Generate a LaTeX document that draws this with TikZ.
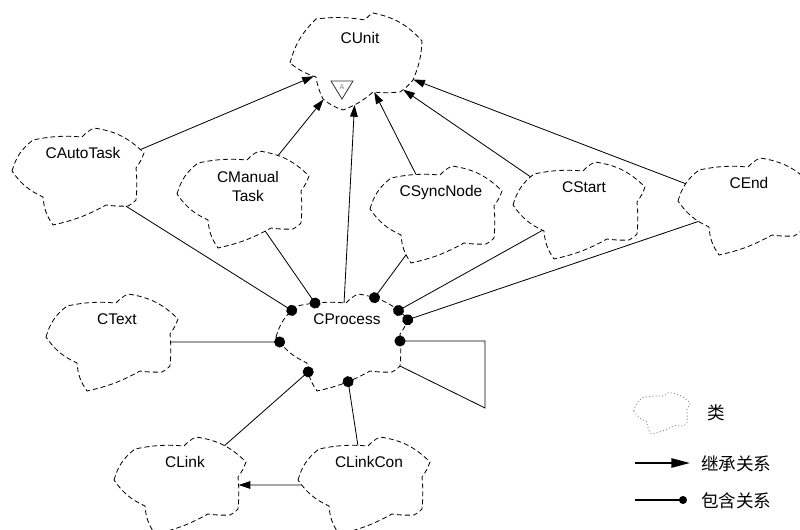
\documentclass[tikz,border=0pt]{standalone}
\usepackage{fontspec}
\setmainfont{Liberation Sans}
\newfontfamily\cjk{Noto Sans CJK SC}
\usetikzlibrary{calc,intersections,arrows.meta}

\tikzset{
  cls/.style={line width=0.7pt, dash pattern=on 4.2pt off 2.6pt},
  clsname/.style={font=\fontsize{13.2}{15.4}\selectfont, align=center, inner sep=0pt},
  abstr/.style={line width=0.7pt, draw=black!80},
  isa/.style={line width=0.7pt, -{Triangle[length=10pt,width=6.5pt]}},
  has/.style={line width=0.7pt, -{Circle[length=3.3mm]}, shorten >=-1.65mm},
  keycls/.style={line width=0.8pt, draw=black!45, dotted},
  keyisa/.style={line width=1.4pt, -{Triangle[length=16pt,width=8pt]}},
  keyhas/.style={line width=1.4pt, -{Circle[length=6.8pt]}, shorten >=-3.4pt},
  keytext/.style={font=\cjk\fontsize{15}{18}\selectfont, anchor=west, inner sep=0pt},
}

% outline of a class cloud, around (0,0)
\newcommand\cloudoutline{(-66,-5) to[bend left=18] (-45,-36) to[bend left=8] (4,-39)
  to[bend left=10] (16,-48) to[bend left=18] (66,-23) to[bend left=8] (58,-8)
  to[bend left=5] (58,24) to[bend left=10] (50,30) to[bend left=5] (28,29)
  to[bend left=8] (-25,49) to[bend left=15] (-35,21) to[bend left=15] cycle}

% class cloud: [baseline of last text line], name, position, text
\newcommand\booch[4][-17.5]{%
  \coordinate (#2) at (#3);
  \begin{scope}[shift={(#2)}]
    \draw[cls, name path global=#2-o] \cloudoutline;
    \coordinate (#2-e) at (58,-1);
    \coordinate (#2-se) at (58,24);
    \node[clsname, anchor=base] (#2-t) at (5,#1) {#4};
  \end{scope}}

% end points of a link between two clouds, on their outlines
\newcommand\linkpts[2]{%
  \path[name path=lk] (#1) -- (#2);
  \path[name intersections={of=#1-o and lk, by=lk-a}];
  \path[name intersections={of=#2-o and lk, by=lk-b}];}

\begin{document}
\begin{tikzpicture}[x=0.03cm, y=-0.03cm]
  \useasboundingbox (0,0) rectangle (800,530);

  %%%%% CLASSES %%%%%
  \coordinate (cunit) at (357,58);
  \begin{scope}[shift={(cunit)}]
    \draw[cls, name path global=cunit-o] (-67,5) to[bend left=15] (-41,-39)
      to[bend left=8] (8,-38) to[bend left=10] (16,-45) to[bend left=18] (65,-17)
      to[bend left=10] (56,22) to[bend left=8] (43,34) to[bend left=5] (16,34)
      to[bend left=10] (-14,52) to[bend left=10] (-34,41) to[bend left=8] (-41,19)
      to[bend left=10] cycle;
    \draw[abstr] (-26,23) -- (-4,23) -- (-15,41) -- cycle;
    \node[font=\fontsize{6}{6}\selectfont, text=black!50, inner sep=0pt] (cunit-a) at (-15,29) {A};
    \node[clsname] (cunit-t) at (3,-20) {CUnit};
  \end{scope}

  \booch{cautotask}{78,176}{CAutoTask}
  \booch[2]{cmanual}{243,199}{CManual\\Task}
  \booch{csyncnode}{436,214}{CSyncNode}
  \booch{cstart}{579,210}{CStart}
  \booch{cend}{744,206}{CEnd}
  \booch{cprocess}{342,342}{CProcess}
  \booch{ctext}{112,342}{CText}
  \booch{clink}{180,485}{CLink}
  \booch{clinkcon}{364,485}{CLinkCon}

  %%%%% INHERITANCE %%%%%
  \foreach \sub in {cautotask,cmanual,cprocess,csyncnode,cstart,cend}{
    \linkpts{\sub}{cunit}
    \draw[isa] (lk-a) -- (lk-b);
  }
  \linkpts{clinkcon}{clink}
  \draw[isa] (lk-a) -- (lk-b);

  %%%%% CONTAINMENT %%%%%
  \foreach \part in {cautotask,cmanual,csyncnode,cstart,cend,ctext,clink,clinkcon}{
    \linkpts{\part}{cprocess}
    \draw[has] (lk-a) -- (lk-b);
  }
  \coordinate (loop-n) at (485,341);
  \coordinate (loop-s) at (485,408);
  \draw[has] (cprocess-se) -- (loop-s) -- (loop-n) -- (cprocess-e);

  %%%%% LEGEND %%%%%
  \begin{scope}[shift={(662,413)}, scale=0.43]
    \draw[keycls] \cloudoutline;
  \end{scope}
  \node[keytext] (keycls-t) at (707,413) {类};

  \coordinate (keyisa-a) at (635,463);
  \coordinate (keyisa-b) at (690,463);
  \draw[keyisa] (keyisa-a) -- (keyisa-b);
  \node[keytext] (keyisa-t) at (701,464) {继承关系};

  \coordinate (keyhas-a) at (635,500);
  \coordinate (keyhas-b) at (683,500);
  \draw[keyhas] (keyhas-a) -- (keyhas-b);
  \node[keytext] (keyhas-t) at (701,501) {包含关系};
\end{tikzpicture}
\end{document}
